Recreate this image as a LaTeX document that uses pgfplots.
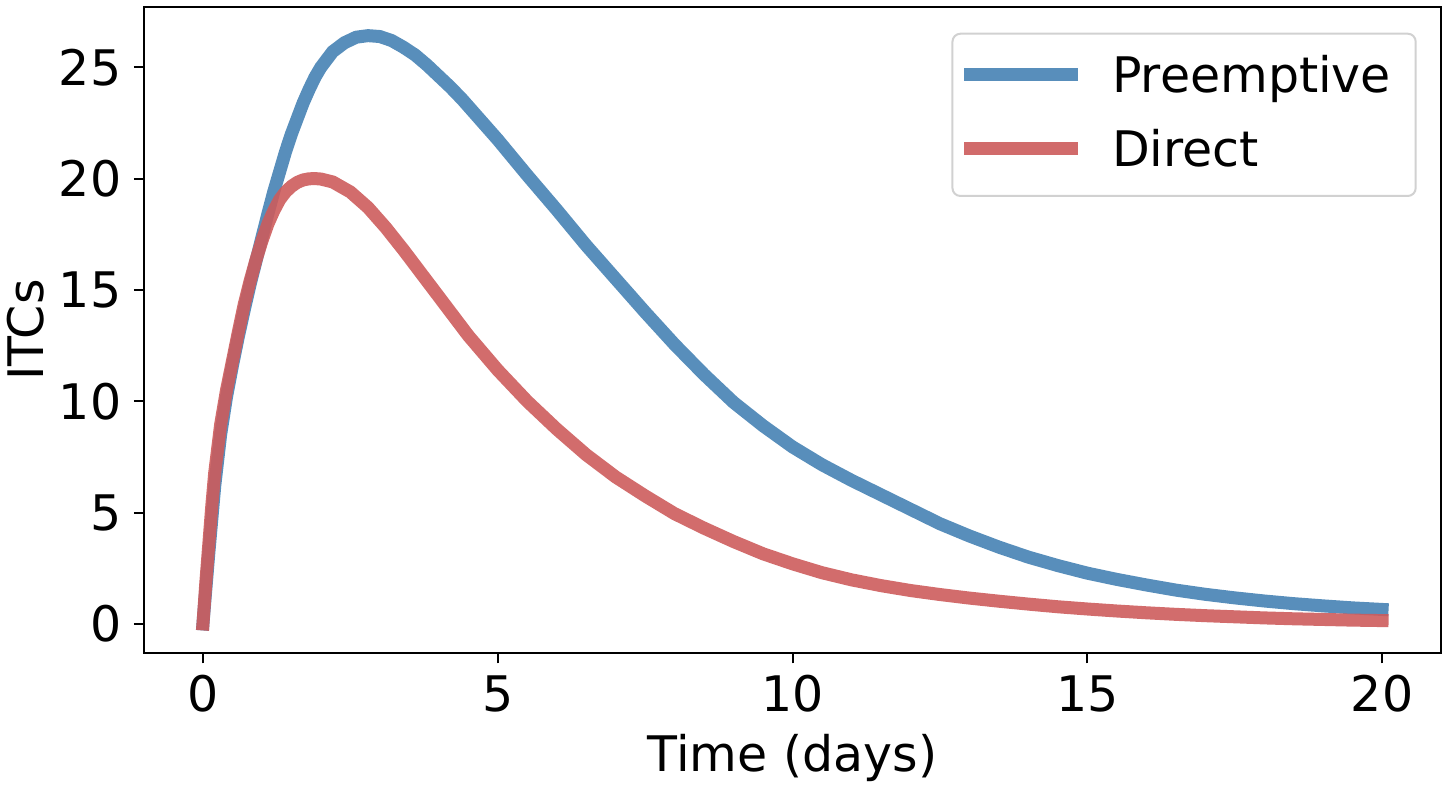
\documentclass[border=0pt]{standalone}
\usepackage{fontspec}
\setmainfont{DejaVu Sans}
\usepackage{pgfplots}
\pgfplotsset{compat=1.18}
\definecolor{cblue}{RGB}{70,130,180}
\definecolor{cred}{RGB}{205,92,92}
\newcommand\fz{\fontsize{24.5}{29.4}\selectfont}
\begin{document}
\begin{tikzpicture}
\begin{axis}[
  scale only axis,
  width=648.5pt, height=323.3pt,
  xmin=-1, xmax=21, ymin=-1.32, ymax=27.72,
  xtick={0,5,10,15,20}, ytick={0,5,10,15,20,25},
  xtick pos=left, ytick pos=left,
  tick align=outside, major tick length=5pt,
  tick style={black, line width=1pt},
  axis line style={black, line width=1pt},
  /pgf/number format/assume math mode=true,
  tick label style={font=\fz},
  yticklabel style={anchor=east, inner sep=0pt, xshift=-6.2pt},
  xticklabel style={anchor=base, inner sep=0pt, yshift=-24.3pt},
  xlabel={Time (days)}, ylabel={ITCs},
  label style={font=\fz},
  xlabel style={at={(axis description cs:0.5,-0.1825)}, anchor=base, inner sep=0pt},
  ylabel style={at={(axis description cs:-0.0776,0.5)}, anchor=base, inner sep=0pt},
  legend style={at={(rel axis cs:1,1)}, anchor=north east, xshift=-12.15pt, yshift=-13pt,
    draw=black!18, line width=1pt, rounded corners=4pt, fill=white,
    font=\fz, inner xsep=6pt, inner ysep=11.6pt, row sep=16.05pt,
    nodes={inner sep=0pt, text height=17.9pt, text depth=3.05pt},
    /tikz/every odd column/.append style={column sep=17.1pt}},
  legend cell align=left,
  legend image code/.code={%
    \path[draw=none, fill=none] (0pt,-1pt) rectangle (56.8pt,1pt);
    \draw[#1, sharp corners, line width=6.5pt, line cap=butt, overlay] (0pt,1.775pt) -- (56.8pt,1.775pt);},
]
\coordinate (ll) at (rel axis cs:0,0);
\coordinate (ur) at (rel axis cs:1,1);
\addplot[cblue, draw opacity=0.9, line width=6.5pt, line cap=rect, line join=round] coordinates {
(0.0,0.0) (0.1,3.2) (0.2,6.2) (0.3,8.5) (0.4,10.2) (0.5,11.6) (0.6,12.9) (0.7,14.1)
(0.8,15.25) (0.9,16.3) (1.0,17.35) (1.1,18.4) (1.2,19.4) (1.3,20.3) (1.4,21.2)
(1.5,22.0) (1.6,22.7) (1.7,23.4) (1.8,24.0) (1.9,24.55) (2.0,25.0) (2.2,25.7)
(2.4,26.1) (2.6,26.35) (2.8,26.42) (3.0,26.38) (3.2,26.2) (3.4,25.9) (3.6,25.55)
(3.8,25.1) (4.0,24.6) (4.2,24.1) (4.4,23.55) (4.6,22.95) (4.8,22.35) (5.0,21.75)
(5.5,20.15) (6.0,18.6) (6.5,17.0) (7.0,15.5) (7.5,14.0) (8.0,12.55) (8.5,11.2)
(9.0,9.95) (9.5,8.9) (10.0,7.95) (10.5,7.15) (11.0,6.45) (11.5,5.8) (12.0,5.15)
(12.5,4.5) (13.0,3.95) (13.5,3.45) (14.0,3.0) (14.5,2.62) (15.0,2.28) (15.5,2.0)
(16.0,1.75) (16.5,1.52) (17.0,1.33) (17.5,1.17) (18.0,1.03) (18.5,0.91) (19.0,0.81)
(19.5,0.72) (20.0,0.65)
};
\addlegendentry{Preemptive\hspace*{6.3pt}}
\addplot[cred, draw opacity=0.9, line width=6.5pt, line cap=rect, line join=round] coordinates {
(0.0,0.0) (0.05,1.9) (0.1,3.6) (0.15,5.3) (0.2,6.8) (0.3,8.95) (0.4,10.5) (0.5,11.8)
(0.6,13.1) (0.7,14.35) (0.8,15.4) (0.9,16.35) (1.0,17.2) (1.1,17.95) (1.2,18.55)
(1.3,19.05) (1.4,19.4) (1.5,19.65) (1.6,19.83) (1.7,19.94) (1.8,19.99) (1.9,20.0)
(2.0,19.98) (2.2,19.85) (2.5,19.4) (2.8,18.7) (3.1,17.8) (3.4,16.8) (3.7,15.75)
(4.0,14.7) (4.5,12.95) (5.0,11.4) (5.5,10.0) (6.0,8.75) (6.5,7.6) (7.0,6.6)
(7.5,5.75) (8.0,4.95) (8.5,4.3) (9.0,3.7) (9.5,3.15) (10.0,2.7) (10.5,2.3)
(11.0,1.98) (11.5,1.72) (12.0,1.5) (12.5,1.32) (13.0,1.16) (13.5,1.02) (14.0,0.89)
(14.5,0.77) (15.0,0.67) (15.5,0.58) (16.0,0.5) (16.5,0.43) (17.0,0.37) (17.5,0.32)
(18.0,0.27) (18.5,0.23) (19.0,0.2) (19.5,0.17) (20.0,0.15)
};
\addlegendentry{Direct}
\end{axis}
\path ([xshift=-72pt,yshift=-67.35pt]ll) rectangle ([xshift=4pt,yshift=3.35pt]ur);
\end{tikzpicture}
\end{document}
